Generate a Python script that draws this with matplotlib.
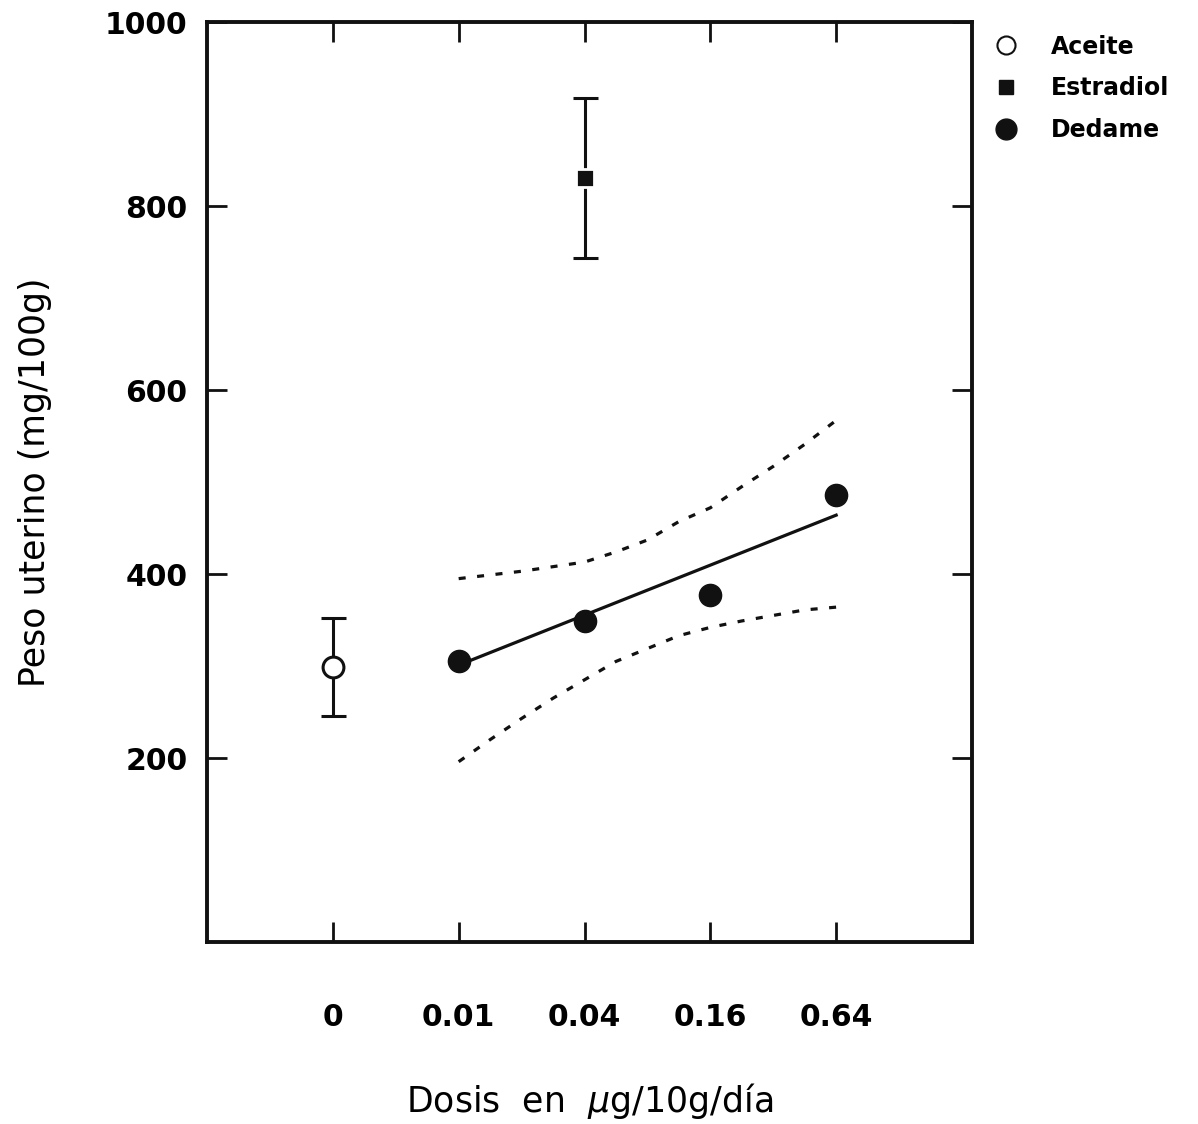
import matplotlib
matplotlib.use("Agg")
import matplotlib.pyplot as plt
from matplotlib.lines import Line2D

# categories on the x axis (dose, ug/10g/day)
dose_labels = ["0", "0.01", "0.04", "0.16", "0.64"]
dose_pos = [0, 1, 2, 3, 4]

# controls
aceite_x, aceite_y, aceite_err = 0, 299, 53
estradiol_x, estradiol_y, estradiol_err = 2, 830, 87

# Dedame group
dedame_x = [1, 2, 3, 4]
dedame_y = [306, 349, 377, 486]

# regression line and confidence band
fit_x = [1, 4]
fit_y = [301, 464]
band_x = [1, 1.25, 1.5, 1.75, 2, 2.25, 2.5, 2.75, 3, 3.25, 3.5, 3.75, 4]
band_upper = [395, 399, 403, 408, 413, 424, 437, 457, 472, 495, 517, 541, 567]
band_lower = [196, 220, 243, 265, 285, 305, 319, 333, 342, 349, 355, 361, 364]

plt.rcParams["font.family"] = ["DejaVu Sans"]

fig = plt.figure(figsize=(11.98, 11.24), dpi=100)
ax = fig.add_axes([0.1728, 0.1619, 0.6386, 0.8185])

ax.plot(fit_x, fit_y, color="#111111", lw=2.3)
dash = (0, (2.2, 3.6))
ax.plot(band_x, band_upper, color="#111111", lw=2.3, linestyle=dash)
ax.plot(band_x, band_lower, color="#111111", lw=2.3, linestyle=dash)

ax.errorbar([aceite_x], [aceite_y], yerr=[aceite_err], fmt="none",
            ecolor="#111111", elinewidth=2.2, capsize=9, capthick=2.2)
ax.plot([aceite_x], [aceite_y], "o", ms=15, mfc="white", mec="#111111", mew=2.2)

ax.errorbar([estradiol_x], [estradiol_y], yerr=[estradiol_err], fmt="none",
            ecolor="#111111", elinewidth=2.2, capsize=9, capthick=2.2)
ax.plot([estradiol_x], [estradiol_y], "s", ms=13, mfc="#111111", mec="white", mew=2)

ax.plot(dedame_x, dedame_y, "o", ms=16, color="#111111", zorder=5)

ax.set_xlim(-1.0, 5.08)
ax.set_ylim(0, 1000)
ax.set_xticks(dose_pos)
ax.set_xticklabels(dose_labels)
ax.set_yticks([200, 400, 600, 800, 1000])

ax.tick_params(axis="both", direction="in", length=14.5, width=2,
               top=True, right=True, labelsize=21.5, color="#111111")
ax.tick_params(axis="x", pad=44)
ax.tick_params(axis="y", pad=14)
for lab in ax.get_xticklabels() + ax.get_yticklabels():
    lab.set_fontweight("bold")
for sp in ax.spines.values():
    sp.set_linewidth(2.8)
    sp.set_color("#111111")

ax.set_ylabel("Peso uterino (mg/100g)", fontsize=25, labelpad=38)
ax.set_xlabel("Dosis  en  $\\mu$g/10g/día", fontsize=25, labelpad=35)

handles = [
    Line2D([], [], marker="o", ls="none", ms=13, mfc="white", mec="#111111", mew=1.5),
    Line2D([], [], marker="s", ls="none", ms=10, mfc="#111111", mec="#111111"),
    Line2D([], [], marker="o", ls="none", ms=15, mfc="#111111", mec="#111111"),
]
fig.legend(handles, ["Aceite", "Estradiol", "Dedame"], loc="upper left",
           bbox_to_anchor=(0.802, 0.988), frameon=False,
           handletextpad=0.9, labelspacing=0.75, prop={"weight": "bold", "size": 17})

fig.savefig("out.png", dpi=100)
